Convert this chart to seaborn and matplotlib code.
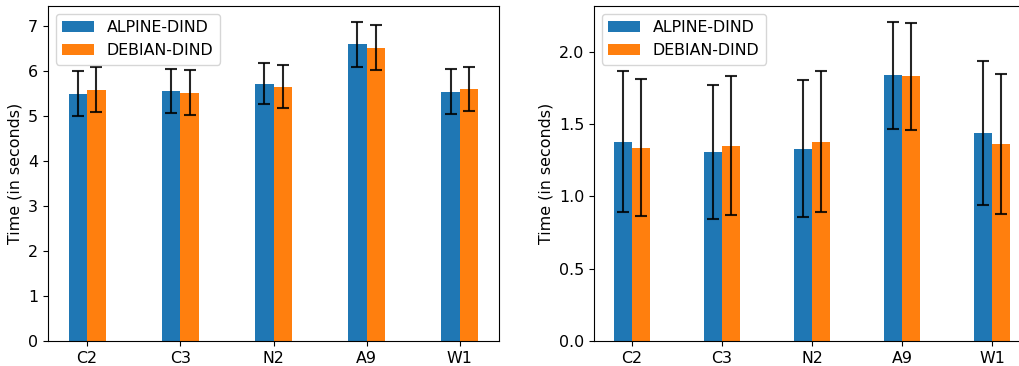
import numpy as np
import pandas as pd
import seaborn as sns
import matplotlib
matplotlib.use("Agg")
import matplotlib.pyplot as plt

plt.rcParams['font.size'] = 11.4

# categories and series
tests = ['C2', 'C3', 'N2', 'A9', 'W1']
images = ['ALPINE-DIND', 'DEBIAN-DIND']

# left panel: mean times and errors
left_alpine = [5.49, 5.55, 5.71, 6.58, 5.53]
left_debian = [5.58, 5.51, 5.64, 6.51, 5.60]
left_alpine_err = [0.50, 0.49, 0.45, 0.50, 0.50]
left_debian_err = [0.49, 0.50, 0.48, 0.50, 0.49]

# right panel
right_alpine = [1.378, 1.309, 1.329, 1.836, 1.440]
right_debian = [1.336, 1.350, 1.378, 1.829, 1.364]
right_alpine_err = [0.488, 0.464, 0.474, 0.370, 0.497]
right_debian_err = [0.475, 0.480, 0.489, 0.370, 0.484]

colors = ['#1f77b4', '#ff7f0e']


def make_df(alpine, debian):
    return pd.DataFrame({
        'test': tests * 2,
        'image': [images[0]] * len(tests) + [images[1]] * len(tests),
        'time': list(alpine) + list(debian),
    })


def draw(ax, alpine, debian, alpine_err, debian_err):
    df = make_df(alpine, debian)
    sns.barplot(data=df, x='test', y='time', hue='image', order=tests,
                hue_order=images, palette=colors, width=0.4, saturation=1,
                errorbar=None, ax=ax)
    for cont, err in zip(ax.containers, [alpine_err, debian_err]):
        xs = [p.get_x() + p.get_width() / 2 for p in cont]
        hs = [p.get_height() for p in cont]
        ax.errorbar(xs, hs, yerr=err, fmt='none', ecolor='black', alpha=0.85,
                    capsize=4.3, elinewidth=1.5, capthick=1.5, zorder=3)
    top = max(np.array(alpine) + np.array(alpine_err))
    top = max(top, max(np.array(debian) + np.array(debian_err)))
    ax.set_xlim(-0.42, len(tests) - 1 + 0.42)
    ax.set_ylim(0, top * 1.05)
    ax.set_xlabel('')
    ax.set_ylabel('Time (in seconds)')
    handles, labels = ax.get_legend_handles_labels()
    ax.legend(handles, labels, loc='upper left')


fig = plt.figure(figsize=(10.19, 3.66), dpi=100)
ax1 = fig.add_axes([48 / 1019, 25 / 366, 451 / 1019, 335 / 366])
ax2 = fig.add_axes([594 / 1019, 25 / 366, 436 / 1019, 335 / 366])

draw(ax1, left_alpine, left_debian, left_alpine_err, left_debian_err)
draw(ax2, right_alpine, right_debian, right_alpine_err, right_debian_err)

fig.savefig('out.png', dpi=100)
